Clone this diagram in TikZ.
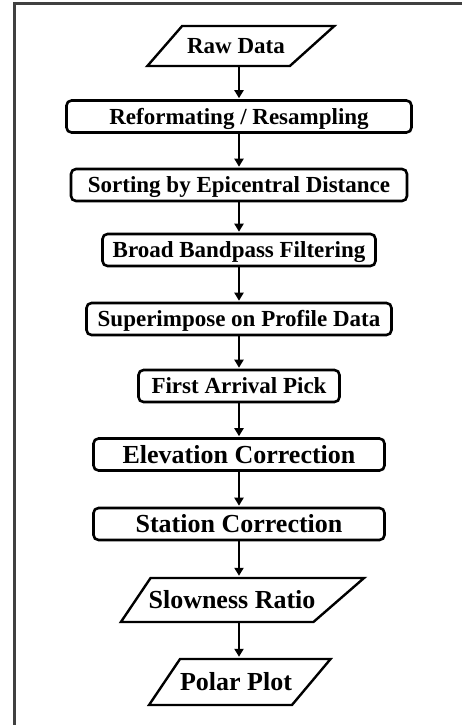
\documentclass[tikz,border=0pt]{standalone}
\usepackage{fontspec}
\setmainfont{Liberation Serif}
\usetikzlibrary{shapes.geometric,arrows.meta}

\def\midx{239}

\begin{document}
\begin{tikzpicture}[x=1pt,y=-1pt]
        \tikzstyle{process} = [rectangle, rounded corners=5pt, draw, line width=2.6pt, minimum height=32pt, inner sep=0pt, text height=15pt, text depth=0pt, font=\fontsize{23}{26}\selectfont\bfseries]
        \tikzstyle{bigprocess} = [process, text height=17pt, font=\fontsize{26}{30}\selectfont\bfseries]
        \tikzstyle{io} = [trapezium, trapezium left angle=56, trapezium right angle=139, draw, line width=2.4pt, inner xsep=0pt, inner ysep=14pt, text height=17pt, text depth=0pt, font=\fontsize{26}{30}\selectfont\bfseries]
        \tikzstyle{flow} = [line width=2pt, -{Triangle[length=8pt,width=9pt]}, shorten >=1pt]

        \useasboundingbox (0,0) rectangle (462,725);
        % frame
        \draw[line width=3pt, black!75] (14,725) -- (14,4) -- (462,4);

        \node [io, trapezium left angle=49, trapezium right angle=138, inner xsep=5pt, inner ysep=12.5pt, text height=15pt, font=\fontsize{23}{26}\selectfont\bfseries](raw) at (\midx-3, 46) {Raw Data};
        \node [process, minimum width=345pt](reformat) at (\midx, 116.5) {Reformating / Resampling};
        \node [process, minimum width=336pt](sorting) at (\midx, 185) {Sorting by Epicentral Distance};
        \node [process, minimum width=273pt](bandpass) at (\midx, 250) {Broad Bandpass Filtering};
        \node [process, minimum width=305pt](profile) at (\midx, 319) {Superimpose on Profile Data};
        \node [process, minimum width=201pt](pick) at (\midx, 386) {First Arrival Pick};
        \node [bigprocess, minimum width=291pt](elevation) at (\midx, 454.5) {Elevation Correction};
        \node [bigprocess, minimum width=291pt](station) at (\midx, 524) {Station Correction};
        \node [io, inner xsep=-2pt, inner ysep=13.5pt](slowness) at (\midx-7, 600) {Slowness Ratio};
        \node [io, trapezium right angle=130, inner ysep=14.5pt](polar) at (\midx-3, 682) {Polar Plot};

        \foreach \a/\b in {raw/reformat, reformat/sorting, sorting/bandpass, bandpass/profile, profile/pick, pick/elevation, elevation/station, station/slowness, slowness/polar}
        {
                \draw [flow] (\a.south -| reformat) -- (\b.north -| reformat);
        }
\end{tikzpicture}
\end{document}
